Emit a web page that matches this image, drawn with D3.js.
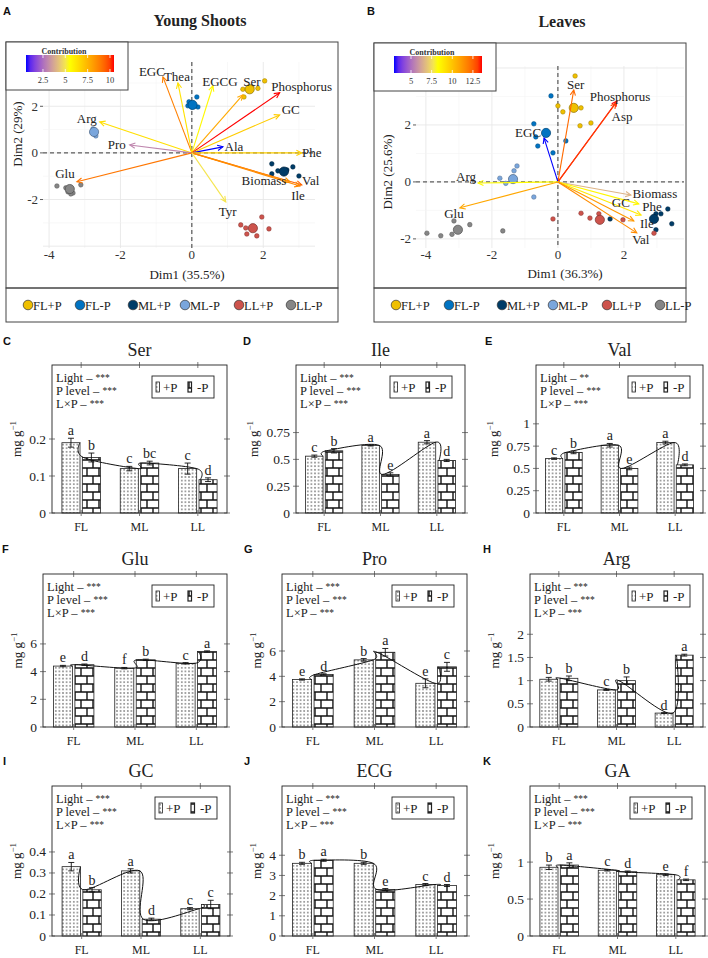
<!DOCTYPE html>
<html><head><meta charset="utf-8">
<script src="https://cdn.jsdelivr.net/npm/d3@7"></script>
<style>
body{margin:0;background:#fff}
svg{font-family:"Liberation Serif","Times New Roman",serif}
</style></head>
<body><svg id="c" width="708" height="958"></svg>
<script>
// ---------------- DATA ----------------
const groups = ["FL+P","FL-P","ML+P","ML-P","LL+P","LL-P"];
const groupColors = ["#EFC000","#0073C2","#003C67","#7AA6DC","#CD534C","#868686"];

// Panel A (Young Shoots) variables
const varsA = ["EGC","Thea","EGCG","Ser","Phosphorus","GC","Arg","Pro","Ala","Phe","Val","Biomass","Ile","Glu","Tyr"];
const dim1A = [-0.81,-0.39,0.59,1.43,2.46,2.46,-2.58,-1.74,0.87,3.08,3.08,2.75,3.03,-3.22,0.95];
const dim2A = [3.26,3.0,2.88,2.49,2.58,1.63,1.33,0.34,0.26,0.0,-1.37,-1.24,-1.42,-1.24,-2.1];
const contribA = [8.8,6.3,5.7,7.8,10.45,6.9,6.4,3.0,0.6,6.8,9.4,8.3,8.6,9.0,5.0];
const contribTicksA = [2.5,5,7.5,10];
// Panel A individuals
const indAgroup = [0,0,0,0,0, 1,1,1,1,1,1, 2,2,2,2,2,2, 3,3,3, 4,4,4,4,4,4, 5,5,5,5,5,5];
const indAx = [1.43,1.46,1.85,2.04,1.68, -0.08,0.14,0.17,-0.11,0.0,0.05, 2.24,2.24,2.83,3.0,2.41,2.66, -2.77,-2.69,-2.74, 1.37,1.51,1.54,1.82,1.96,2.16, -3.78,-3.53,-3.33,-3.11,-3.39,-3.47];
const indAy = [2.73,2.4,2.77,3.09,2.83, 2.19,2.4,1.97,2.02,1.97,2.1, -0.47,-0.9,-0.6,-0.99,-0.77,-0.73, 1.03,0.73,0.88, -3.09,-3.22,-3.48,-3.56,-2.75,-3.26, -1.42,-1.5,-1.72,-1.37,-1.76,-1.67];
const meanAx = [1.62,0.02,2.58,-2.74,1.71,-3.42];
const meanAy = [2.73,2.06,-0.8,0.9,-3.23,-1.55];

// Panel B (Leaves) variables
const varsB = ["Ser","Phosphorus","Asp","EGC","Arg","Glu","Biomass","GC","Phe","Ile","Val"];
const dim1B = [0.48,1.79,1.76,-0.42,-2.42,-2.97,2.21,2.45,2.52,2.30,2.39];
const dim2B = [3.23,2.84,2.77,1.54,-0.04,-0.91,-0.46,-0.77,-1.16,-1.37,-1.79];
const contribB = [12.3,13.6,13.1,2.94,8.4,10.8,6.6,8.5,8.9,11.2,11.5];
const contribTicksB = [5,7.5,10,12.5];
// Panel B individuals
const indBgroup = [0,0,0,0,0,0, 1,1,1,1,1,1, 2,2,2,2,2,2, 3,3,3,3,3,3, 4,4,4,4,4,4, 5,5,5,5,5,5];
const indBx = [0.52,0.0,0.15,0.7,0.67,1.0, -0.21,-0.73,-0.67,-0.61,-0.15,0.24, 3.33,3.45,3.12,2.97,1.58,2.97, -1.24,-1.33,-1.76,-1.58,-0.73,-1.4, -0.15,0.7,0.97,1.24,1.97,2.91, -3.15,-2.67,-3.21,-3.55,-3.97,-1.67];
const indBy = [3.72,2.67,2.46,2.6,1.97,2.07, 3.02,2.04,1.58,1.26,1.02,1.44, -0.95,-1.47,-1.12,-1.68,-1.3,-1.12, 0.56,0.39,0.13,-0.05,-0.53,0.05, -1.3,-1.1,-1.27,-1.12,-1.33,-1.8, -1.37,-1.5,-1.84,-1.89,-1.8,-1.72];
const meanBx = [0.48,-0.36,2.91,-1.36,1.27,-3.03];
const meanBy = [2.6,1.72,-1.3,0.1,-1.33,-1.68];

// Bar panels C-K
const barCategories = ["FL","ML","LL"];
const barTitles = ["Ser","Ile","Val","Glu","Pro","Arg","GC","ECG","GA"];
const plusP  = [[0.19,0.12,0.12],[0.53,0.63,0.66],[0.61,0.76,0.79],[4.4,4.25,4.6],[3.75,5.3,3.45],[1.03,0.8,0.3],[0.33,0.31,0.13],[3.6,3.6,2.55],[0.93,0.89,0.83]];
const minusP = [[0.15,0.135,0.09],[0.58,0.36,0.49],[0.68,0.50,0.54],[4.5,4.85,5.45],[4.15,5.9,4.75],[1.05,1.0,1.55],[0.22,0.08,0.15],[3.75,2.3,2.5],[0.96,0.87,0.76]];
const errPlus  = [[0.012,0.006,0.015],[0.01,0.005,0.015],[0.008,0.02,0.015],[0.05,0.05,0.05],[0.05,0.1,0.35],[0.04,0.01,0.01],[0.02,0.01,0.005],[0.05,0.05,0.05],[0.03,0.01,0.01]];
const errMinus = [[0.012,0.005,0.005],[0.02,0.015,0.01],[0.015,0.015,0.01],[0.05,0.05,0.05],[0.05,0.3,0.35],[0.05,0.08,0.02],[0.01,0.005,0.02],[0.05,0.05,0.05],[0.03,0.01,0.01]];
const lettersPlus  = [["a","c","c"],["c","a","a"],["c","a","a"],["e","f","c"],["e","b","e"],["b","c","d"],["a","a","c"],["b","b","c"],["b","c","e"]];
const lettersMinus = [["b","bc","d"],["b","e","d"],["b","e","d"],["d","b","a"],["d","a","c"],["b","b","a"],["b","d","c"],["a","e","d"],["a","d","f"]];
const lightStars = ["***","***","**","***","***","***","***","***","***"];
const pStars = ["***","***","***","***","***","***","***","***","***"];
const lxpStars = ["***","***","***","***","***","***","***","***","***"];
const yTicks = [[0,0.1,0.2],[0,0.25,0.5,0.75],[0,0.25,0.5,0.75,1],[0,2,4,6],[0,2,4,6],[0,0.5,1,1.5,2],[0,0.1,0.2,0.3,0.4],[0,1,2,3,4],[0,0.5,1]];
const yMax = [0.40,1.38,1.66,11.05,12.08,3.30,0.714,7.43,2.03];

// ---------------- LAYOUT ----------------
const barLayout = [
  {x0:52,x1:227,y0:365,y1:513,tag:"C",tx:3,ty:345},
  {x0:296,x1:465,y0:365,y1:513,tag:"D",tx:243,ty:345},
  {x0:536,x1:703,y0:365,y1:513,tag:"E",tx:485,ty:345},
  {x0:43,x1:227,y0:574,y1:727,tag:"F",tx:2,ty:553},
  {x0:282,x1:467,y0:574,y1:727,tag:"G",tx:244,ty:553},
  {x0:530,x1:703,y0:574,y1:727,tag:"H",tx:483,ty:553},
  {x0:52,x1:230,y0:786,y1:936,tag:"I",tx:3,ty:765},
  {x0:282,x1:467,y0:786,y1:936,tag:"J",tx:244,ty:765},
  {x0:530,x1:705,y0:786,y1:936,tag:"K",tx:483,ty:765}
];

const svg = d3.select("#c");
const defs = svg.append("defs");
const dp = defs.append("pattern").attr("id","dots").attr("patternUnits","userSpaceOnUse").attr("width",3.6).attr("height",3.6);
dp.append("rect").attr("width",3.6).attr("height",3.6).attr("fill","#fff");
dp.append("circle").attr("cx",1.8).attr("cy",1.8).attr("r",0.7).attr("fill","#111");
const bp = defs.append("pattern").attr("id","bricks").attr("patternUnits","userSpaceOnUse").attr("width",12).attr("height",16);
bp.append("rect").attr("width",12).attr("height",16).attr("fill","#fff");
bp.append("path").attr("d","M0,4H12M0,12H12M3,4V12M9,12V16M9,0V4").attr("stroke","#111").attr("stroke-width",1.4).attr("fill","none");

function sansTag(x,y,t){
  svg.append("text").attr("x",x).attr("y",y).attr("font-family","Liberation Sans, Arial, sans-serif")
    .attr("font-weight","bold").attr("font-size",11).attr("fill","#111").text(t);
}

// ---------------- BIPLOTS ----------------
function biplot(o){
  const g = svg.append("g");
  const x = d3.scaleLinear().domain(o.xd).range([o.px0,o.px1]);
  const y = d3.scaleLinear().domain(o.yd).range([o.py1,o.py0]);
  const ext = d3.extent(o.contrib);
  const col = d3.scaleLinear().domain([ext[0],(ext[0]+ext[1])/2,ext[1]])
     .range(["blue","yellow","red"]).interpolate(d3.interpolateLab);
  const xt = d3.range(Math.ceil(o.xd[0]),Math.floor(o.xd[1])+1);
  const yt = d3.range(Math.ceil(o.yd[0]),Math.floor(o.yd[1])+1);
  xt.forEach(v=>g.append("line").attr("x1",x(v)).attr("x2",x(v)).attr("y1",o.py0).attr("y2",o.py1)
     .attr("stroke",v%2===0?"#e8e8e8":"#f4f4f4").attr("stroke-width",v%2===0?0.9:0.6));
  yt.forEach(v=>g.append("line").attr("y1",y(v)).attr("y2",y(v)).attr("x1",o.px0).attr("x2",o.px1)
     .attr("stroke",v%2===0?"#e8e8e8":"#f4f4f4").attr("stroke-width",v%2===0?0.9:0.6));
  g.append("line").attr("x1",o.px0).attr("x2",o.px1).attr("y1",y(0)).attr("y2",y(0)).attr("stroke","#222").attr("stroke-dasharray","4,3").attr("stroke-width",0.9);
  g.append("line").attr("x1",x(0)).attr("x2",x(0)).attr("y1",o.py0).attr("y2",o.py1).attr("stroke","#222").attr("stroke-dasharray","4,3").attr("stroke-width",0.9);
  o.ix.forEach((v,i)=>{
    const c = groupColors[o.ig[i]];
    g.append("circle").attr("cx",x(v)).attr("cy",y(o.iy[i])).attr("r",2.3).attr("fill",c).attr("stroke",d3.color(c).darker(1.2)).attr("stroke-width",0.5);
  });
  o.mx.forEach((v,i)=>{
    const c = groupColors[i];
    g.append("circle").attr("cx",x(v)).attr("cy",y(o.my[i])).attr("r",4.6).attr("fill",c).attr("stroke",d3.color(c).darker(1.5)).attr("stroke-width",0.7);
  });
  o.vars.forEach((nm,i)=>{
    const x1=x(0),y1=y(0),x2=x(o.d1[i]),y2=y(o.d2[i]);
    const c = col(o.contrib[i]);
    g.append("line").attr("x1",x1).attr("y1",y1).attr("x2",x2).attr("y2",y2).attr("stroke",c).attr("stroke-width",1.1);
    const a = Math.atan2(y2-y1,x2-x1), L=6, h=0.45;
    g.append("path").attr("d",`M${x2-L*Math.cos(a-h)},${y2-L*Math.sin(a-h)}L${x2},${y2}L${x2-L*Math.cos(a+h)},${y2-L*Math.sin(a+h)}`)
      .attr("fill","none").attr("stroke",c).attr("stroke-width",1.1);
  });
  o.vars.forEach((nm,i)=>{
    const n = o.nudge[nm];
    g.append("text").attr("x",x(o.d1[i])+n[0]).attr("y",y(o.d2[i])+n[1]).attr("text-anchor","middle")
      .attr("dominant-baseline","central").attr("font-size",13).attr("fill","#222").text(nm);
  });
  o.xticks.forEach(v=>g.append("text").attr("x",x(v)).attr("y",o.py1+11).attr("text-anchor","middle").attr("font-size",13).attr("fill","#333").text(v<0?"-"+Math.abs(v):v));
  o.yticks.forEach(v=>{
    g.append("text").attr("x",o.px0-5).attr("y",y(v)).attr("text-anchor","end").attr("dominant-baseline","central").attr("font-size",13).attr("fill","#333").text(v<0?"-"+Math.abs(v):v);
    g.append("line").attr("x1",o.px0-3).attr("x2",o.px0).attr("y1",y(v)).attr("y2",y(v)).attr("stroke","#333").attr("stroke-width",0.8);
  });
  g.append("text").attr("x",o.xtx).attr("y",o.xty).attr("text-anchor","middle").attr("font-size",13).attr("fill","#222").text(o.xtitle);
  g.append("text").attr("transform",`translate(${o.ytx},${o.yty}) rotate(-90)`).attr("text-anchor","middle").attr("font-size",13).attr("fill","#222").text(o.ytitle);
  g.append("rect").attr("x",o.bx0).attr("y",o.by0).attr("width",o.bx1-o.bx0).attr("height",o.by1-o.by0).attr("fill","none").attr("stroke","#444").attr("stroke-width",1);
  g.append("rect").attr("x",o.bx0).attr("y",o.by1).attr("width",o.bx1-o.bx0).attr("height",34).attr("fill","none").attr("stroke","#444").attr("stroke-width",1);
  g.append("text").attr("x",o.titleX).attr("y",o.titleY).attr("text-anchor","middle").attr("font-size",16).attr("font-weight","bold").attr("fill","#222").text(o.title);
  const lg = g.append("g");
  lg.append("rect").attr("x",o.bx0).attr("y",o.by0).attr("width",122).attr("height",48).attr("fill","#fff").attr("stroke","#444").attr("stroke-width",1);
  lg.append("text").attr("x",o.bx0+58).attr("y",o.by0+12).attr("text-anchor","middle").attr("font-size",8).attr("font-weight","bold").attr("fill","#333").text("Contribution");
  const gid = "grad"+o.tag;
  const lgGrad = defs.append("linearGradient").attr("id",gid);
  d3.range(0,21).forEach(k=>lgGrad.append("stop").attr("offset",(k*5)+"%").attr("stop-color",col(ext[0]+(ext[1]-ext[0])*k/20)));
  const gx0 = o.bx0+20, gx1 = o.bx0+108;
  lg.append("rect").attr("x",gx0).attr("y",o.by0+13).attr("width",gx1-gx0).attr("height",17).attr("fill",`url(#${gid})`);
  const cs = d3.scaleLinear().domain(ext).range([gx0,gx1]);
  o.cticks.forEach(v=>{
    lg.append("line").attr("x1",cs(v)).attr("x2",cs(v)).attr("y1",o.by0+13).attr("y2",o.by0+16).attr("stroke","#fff").attr("stroke-width",0.8);
    lg.append("line").attr("x1",cs(v)).attr("x2",cs(v)).attr("y1",o.by0+27).attr("y2",o.by0+30).attr("stroke","#fff").attr("stroke-width",0.8);
    lg.append("text").attr("x",cs(v)).attr("y",o.by0+41).attr("text-anchor","middle").attr("font-size",8.5).attr("fill","#333").text(v);
  });
  groups.forEach((gname,i)=>{
    const cx = o.legX[i];
    g.append("circle").attr("cx",cx).attr("cy",o.by1+17).attr("r",4.8).attr("fill",groupColors[i]).attr("stroke","#333").attr("stroke-width",0.7);
    g.append("text").attr("x",cx+5).attr("y",o.by1+21.5).attr("font-size",12.5).attr("fill","#222").text(gname);
  });
}

biplot({tag:"A",title:"Young Shoots",titleX:200,titleY:26,
  xd:[-4.17,3.45],yd:[-4.08,3.9],px0:43,px1:315,py0:62,py1:248,
  bx0:6,bx1:338,by0:42,by1:288,
  vars:varsA,d1:dim1A,d2:dim2A,contrib:contribA,cticks:contribTicksA,
  ix:indAx,iy:indAy,ig:indAgroup,mx:meanAx,my:meanAy,
  xticks:[-4,-2,0,2],yticks:[-2,0,2],
  xtitle:"Dim1 (35.5%)",xtx:187,xty:279,ytitle:"Dim2 (29%)",ytx:22,yty:134,
  legX:[28,80,133,185,239,291],
  nudge:{EGC:[-11,-5],Thea:[-1,-6],EGCG:[7,-4],Ser:[9,-13],Phosphorus:[22,-6],GC:[11,-5],Arg:[-13,-3],Pro:[-13,0],Ala:[11,0],Phe:[10,0],Val:[9,-4],Biomass:[-26,-1],Ile:[-2,9],Glu:[-12,-8],Tyr:[2,10]}
});
biplot({tag:"B",title:"Leaves",titleX:562,titleY:27,
  xd:[-4.3,3.82],yd:[-2.32,4.07],px0:416,px1:684,py0:66,py1:248,
  bx0:374,bx1:686,by0:43,by1:288,
  vars:varsB,d1:dim1B,d2:dim2B,contrib:contribB,cticks:contribTicksB,
  ix:indBx,iy:indBy,ig:indBgroup,mx:meanBx,my:meanBy,
  xticks:[-4,-2,0,2],yticks:[-2,0,2],
  xtitle:"Dim1 (36.3%)",xtx:565,xty:278,ytitle:"Dim2 (25.6%)",ytx:392,yty:172,
  legX:[396,449,502,553,607,660],
  nudge:{Ser:[2,-5],Phosphorus:[3,-5],Asp:[6,13],EGC:[-16,-6],Arg:[-12,-7],Glu:[-6,6],Biomass:[24,-2],GC:[-18,-1],Phe:[11,-8],Ile:[13,3],Val:[4,7]}
});
sansTag(3,15,"A");
sansTag(367,15,"B");

// ---------------- BAR PANELS ----------------
function barPanel(i){
  const L = barLayout[i];
  const g = svg.append("g");
  const x = d3.scalePoint().domain(barCategories).range([L.x0,L.x1]).padding(0.5);
  const step = x.step();
  const y = d3.scaleLinear().domain([0,yMax[i]]).range([L.y1,L.y0]);
  const bw = 0.31*step;
  const pts = [];
  barCategories.forEach((c,j)=>{
    const cx = x(c);
    const xp = cx-0.33*step, xm = cx+0.02*step;
    g.append("rect").attr("x",xp).attr("y",y(plusP[i][j])).attr("width",bw).attr("height",y(0)-y(plusP[i][j]))
      .attr("fill","url(#dots)").attr("stroke","#222").attr("stroke-width",0.8);
    g.append("rect").attr("x",xm).attr("y",y(minusP[i][j])).attr("width",bw).attr("height",y(0)-y(minusP[i][j]))
      .attr("fill","url(#bricks)").attr("stroke","#222").attr("stroke-width",0.8);
    [[xp+bw/2,plusP[i][j],errPlus[i][j],lettersPlus[i][j]],[xm+bw/2,minusP[i][j],errMinus[i][j],lettersMinus[i][j]]].forEach(d=>{
      const [bx,v,e,lt]=d;
      g.append("path").attr("d",`M${bx},${y(v-e)}V${y(v+e)}M${bx-3},${y(v+e)}H${bx+3}M${bx-3},${y(v-e)}H${bx+3}`)
        .attr("stroke","#111").attr("stroke-width",0.9).attr("fill","none");
      g.append("text").attr("x",bx).attr("y",y(v+e)-3).attr("text-anchor","middle").attr("font-size",14).attr("fill","#222").text(lt);
    });
    pts.push([cx-0.02*step,y(plusP[i][j])]);
    pts.push([cx+0.04*step,y(minusP[i][j])]);
  });
  g.append("path").attr("d",d3.line().curve(d3.curveCardinal.tension(0))(pts)).attr("fill","none").attr("stroke","#111").attr("stroke-width",1);
  g.append("rect").attr("x",L.x0).attr("y",L.y0).attr("width",L.x1-L.x0).attr("height",L.y1-L.y0).attr("fill","none").attr("stroke","#222").attr("stroke-width",0.9);
  let maxW = 0;
  yTicks[i].forEach(v=>{
    g.append("line").attr("x1",L.x0-3).attr("x2",L.x0+3).attr("y1",y(v)).attr("y2",y(v)).attr("stroke","#444").attr("stroke-width",0.7);
    g.append("line").attr("x1",L.x1-3).attr("x2",L.x1+3).attr("y1",y(v)).attr("y2",y(v)).attr("stroke","#444").attr("stroke-width",0.7);
    const t = g.append("text").attr("x",L.x0-6).attr("y",y(v)).attr("text-anchor","end").attr("dominant-baseline","central").attr("font-size",13.5).attr("fill","#222").text(String(v));
    maxW = Math.max(maxW,t.node().getComputedTextLength());
  });
  barCategories.forEach(c=>{
    g.append("line").attr("x1",x(c)).attr("x2",x(c)).attr("y1",L.y0-3).attr("y2",L.y0+3).attr("stroke","#444").attr("stroke-width",0.7);
    g.append("line").attr("x1",x(c)).attr("x2",x(c)).attr("y1",L.y1-3).attr("y2",L.y1+3).attr("stroke","#444").attr("stroke-width",0.7);
    g.append("text").attr("x",x(c)).attr("y",L.y1+18).attr("text-anchor","middle").attr("font-size",12).attr("fill","#222").text(c);
  });
  const yl = g.append("text").attr("transform",`translate(${L.x0-maxW-14},${(L.y0+L.y1)/2}) rotate(-90)`).attr("text-anchor","middle").attr("font-size",13).attr("fill","#222");
  yl.append("tspan").text("mg g");
  yl.append("tspan").attr("font-size",9).attr("dy",-5).text("\u22121");
  g.append("text").attr("x",(L.x0+L.x1)/2).attr("y",L.y0-9).attr("text-anchor","middle").attr("font-size",18).attr("fill","#222").text(barTitles[i]);
  const ann = [["Light \u2013 ",lightStars[i]],["P level \u2013 ",pStars[i]],["L\u00d7P \u2013 ",lxpStars[i]]];
  ann.forEach((a,k)=>{
    const t = g.append("text").attr("x",L.x0+4).attr("y",L.y0+17+k*13).attr("font-size",12.5).attr("fill","#222");
    t.append("tspan").text(a[0]);
    t.append("tspan").attr("font-size",9.5).attr("dy",-1).text(a[1]);
  });
  const lx = L.x1-13-62, ly = L.y0+11;
  g.append("rect").attr("x",lx).attr("y",ly).attr("width",62).attr("height",22).attr("fill","#fff").attr("stroke","#222").attr("stroke-width",0.9);
  g.append("rect").attr("x",lx+4).attr("y",ly+6).attr("width",3.5).attr("height",10).attr("fill","url(#dots)").attr("stroke","#222").attr("stroke-width",0.8);
  g.append("text").attr("x",lx+11).attr("y",ly+15.5).attr("font-size",13).attr("fill","#222").text("+P");
  g.append("rect").attr("x",lx+36).attr("y",ly+6).attr("width",3.5).attr("height",10).attr("fill","url(#bricks)").attr("stroke","#222").attr("stroke-width",1.2);
  g.append("text").attr("x",lx+45).attr("y",ly+15.5).attr("font-size",13).attr("fill","#222").text("-P");
  sansTag(L.tx,L.ty,L.tag);
}
barLayout.forEach((L,i)=>barPanel(i));
</script>
</body></html>
